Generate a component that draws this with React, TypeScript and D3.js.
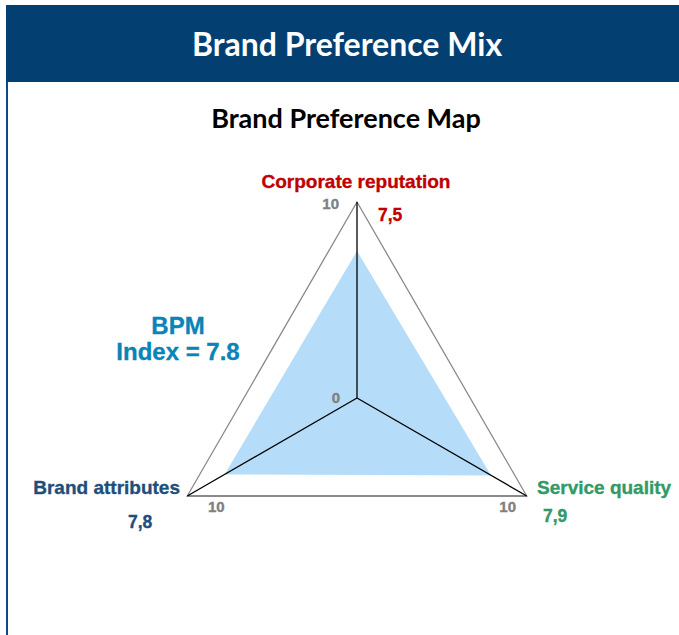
import React from "react";
import * as d3 from "d3";

const axes = ["Corporate reputation", "Service quality", "Brand attributes"];
const values = [7.5, 7.9, 7.8];
const valueLabels = ["7,5", "7,9", "7,8"];
const axisColors = ["#c00000", "#339966", "#1f4e79"];
const tickMax = 10;
const tickLabels = ["10", "10", "10"];
const indexLines = ["BPM", "Index = 7.8"];

const W = 679;
const H = 635;
const cx = 357;
const cy = 398;
const R = 196;

export default function App() {
  const r = d3.scaleLinear().domain([0, tickMax]).range([0, R]);
  const angle = d3.scaleLinear().domain([0, axes.length]).range([0, 2 * Math.PI]);
  const pt = (i: number, v: number): [number, number] => {
    const a = angle(i);
    return [cx + r(v) * Math.sin(a), cy - r(v) * Math.cos(a)];
  };
  const outer = axes.map((_, i) => pt(i, tickMax));
  const data = values.map((v, i) => pt(i, v));
  const line = d3.line<[number, number]>().curve(d3.curveLinearClosed);

  const font = "'Liberation Sans', Arial, sans-serif";
  const headFont = "Lato, 'Open Sans', sans-serif";
  const heavy = (c: string) => ({ fill: c, stroke: c, strokeWidth: 0.35 });

  return (
    <div style={{ position: "absolute", left: 0, top: 0 }}>
      <svg width={W} height={H} style={{ display: "block" }}>
        <rect x={0} y={0} width={W} height={H} fill="#fff" />
        <rect x={6} y={5} width={W - 6} height={77} fill="#043f71" />
        <rect x={6} y={82} width={2} height={H - 82} fill="#0a4a8a" />
        <text x={347} y={56} textAnchor="middle" fill="#fff" fontFamily={headFont} fontWeight={700} fontSize={32}>
          Brand Preference Mix
        </text>
        <text x={346} y={128} textAnchor="middle" fill="#000" fontFamily={headFont} fontWeight={700} fontSize={27}>
          Brand Preference Map
        </text>

        <path d={line(data) || ""} fill="#b5dcf8" stroke="none" />
        <path d={line(outer) || ""} fill="none" stroke="#8a8a8a" strokeWidth={1.3} />
        <line x1={outer[1][0]} y1={outer[1][1]} x2={outer[2][0]} y2={outer[2][1]} stroke="#8a8a8a" strokeWidth={2.2} />
        {outer.map((p, i) => (
          <line key={i} x1={cx} y1={cy} x2={p[0]} y2={p[1]} stroke="#000" strokeWidth={1.3} />
        ))}

        {/* tick labels */}
        <text x={339} y={209} textAnchor="end" {...heavy("#808080")} fontFamily={font} fontWeight={700} fontSize={15}>
          {tickLabels[0]}
        </text>
        <text x={340} y={403} textAnchor="end" {...heavy("#808080")} fontFamily={font} fontWeight={700} fontSize={15}>
          0
        </text>
        <text x={516} y={512} textAnchor="end" {...heavy("#808080")} fontFamily={font} fontWeight={700} fontSize={15}>
          {tickLabels[1]}
        </text>
        <text x={208} y={512} {...heavy("#808080")} fontFamily={font} fontWeight={700} fontSize={15}>
          {tickLabels[2]}
        </text>

        {/* axis labels */}
        <text x={356} y={188} textAnchor="middle" {...heavy(axisColors[0])} fontFamily={font} fontWeight={700} fontSize={19}>
          {axes[0]}
        </text>
        <text x={378} y={221} {...heavy(axisColors[0])} fontFamily={font} fontWeight={700} fontSize={17.5}>
          {valueLabels[0]}
        </text>
        <text x={537} y={494} {...heavy(axisColors[1])} fontFamily={font} fontWeight={700} fontSize={19}>
          {axes[1]}
        </text>
        <text x={543} y={522} {...heavy(axisColors[1])} fontFamily={font} fontWeight={700} fontSize={17.5}>
          {valueLabels[1]}
        </text>
        <text x={180} y={494} textAnchor="end" {...heavy(axisColors[2])} fontFamily={font} fontWeight={700} fontSize={19}>
          {axes[2]}
        </text>
        <text x={128} y={528} {...heavy(axisColors[2])} fontFamily={font} fontWeight={700} fontSize={17.5}>
          {valueLabels[2]}
        </text>

        {indexLines.map((t, i) => (
          <text key={i} x={178} y={334 + i * 26} textAnchor="middle" {...heavy("#0a84b8")} fontFamily={font} fontWeight={700} fontSize={24}>
            {t}
          </text>
        ))}
      </svg>
    </div>
  );
}
